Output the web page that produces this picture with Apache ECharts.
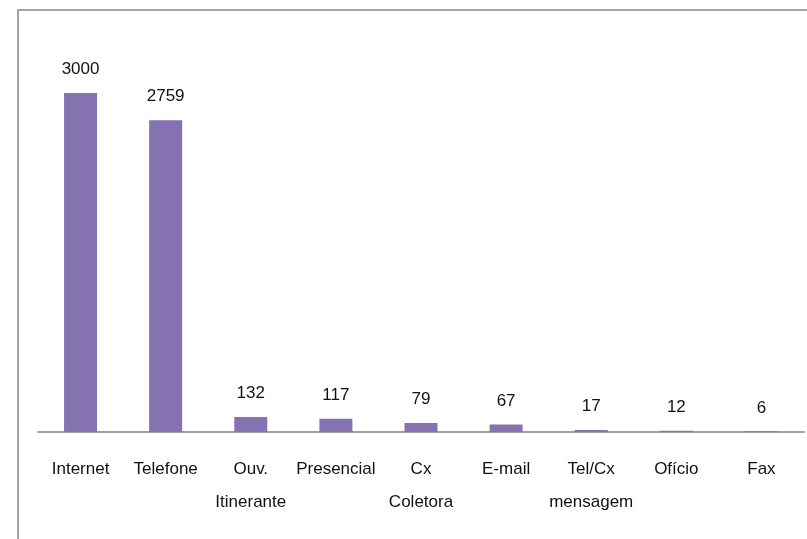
<!DOCTYPE html>
<html>
<head>
<meta charset="utf-8">
<script src="https://cdn.jsdelivr.net/npm/echarts@6/dist/echarts.min.js"></script>
<style>html,body{margin:0;padding:0;background:#fff;}#c{width:807px;height:539px;}</style>
</head>
<body>
<div id="c"></div>
<script>
const categories = ['Internet', 'Telefone', 'Ouv.\nItinerante', 'Presencial', 'Cx\nColetora', 'E-mail', 'Tel/Cx\nmensagem', 'Ofício', 'Fax'];
const values = [3000, 2759, 132, 117, 79, 67, 17, 12, 6];

const FONT = '"Liberation Sans", Arial, sans-serif';
const chart = echarts.init(document.getElementById('c'));
chart.setOption({
  animation: false,
  graphic: [{
    type: 'rect',
    shape: { x: 18, y: 10, width: 820, height: 560 },
    style: { fill: 'none', stroke: '#A5A5A5', lineWidth: 2 },
    silent: true
  }],
  grid: { left: 38, right: 3, top: 93, bottom: 107 },
  xAxis: {
    type: 'category',
    data: categories,
    axisLine: { lineStyle: { color: '#A0A0A0', width: 2 } },
    axisTick: { show: false },
    axisLabel: {
      interval: 0,
      color: '#111',
      fontFamily: FONT,
      fontSize: 17,
      lineHeight: 33,
      margin: 21
    }
  },
  yAxis: {
    type: 'value',
    min: 0,
    max: 3000,
    show: false,
    splitLine: { show: false }
  },
  series: [{
    type: 'bar',
    data: values,
    barWidth: 33,
    itemStyle: { color: '#8572B0' },
    label: {
      show: true,
      position: 'top',
      distance: 15,
      color: '#111',
      fontFamily: FONT,
      fontSize: 17
    }
  }]
});
</script>
</body>
</html>
